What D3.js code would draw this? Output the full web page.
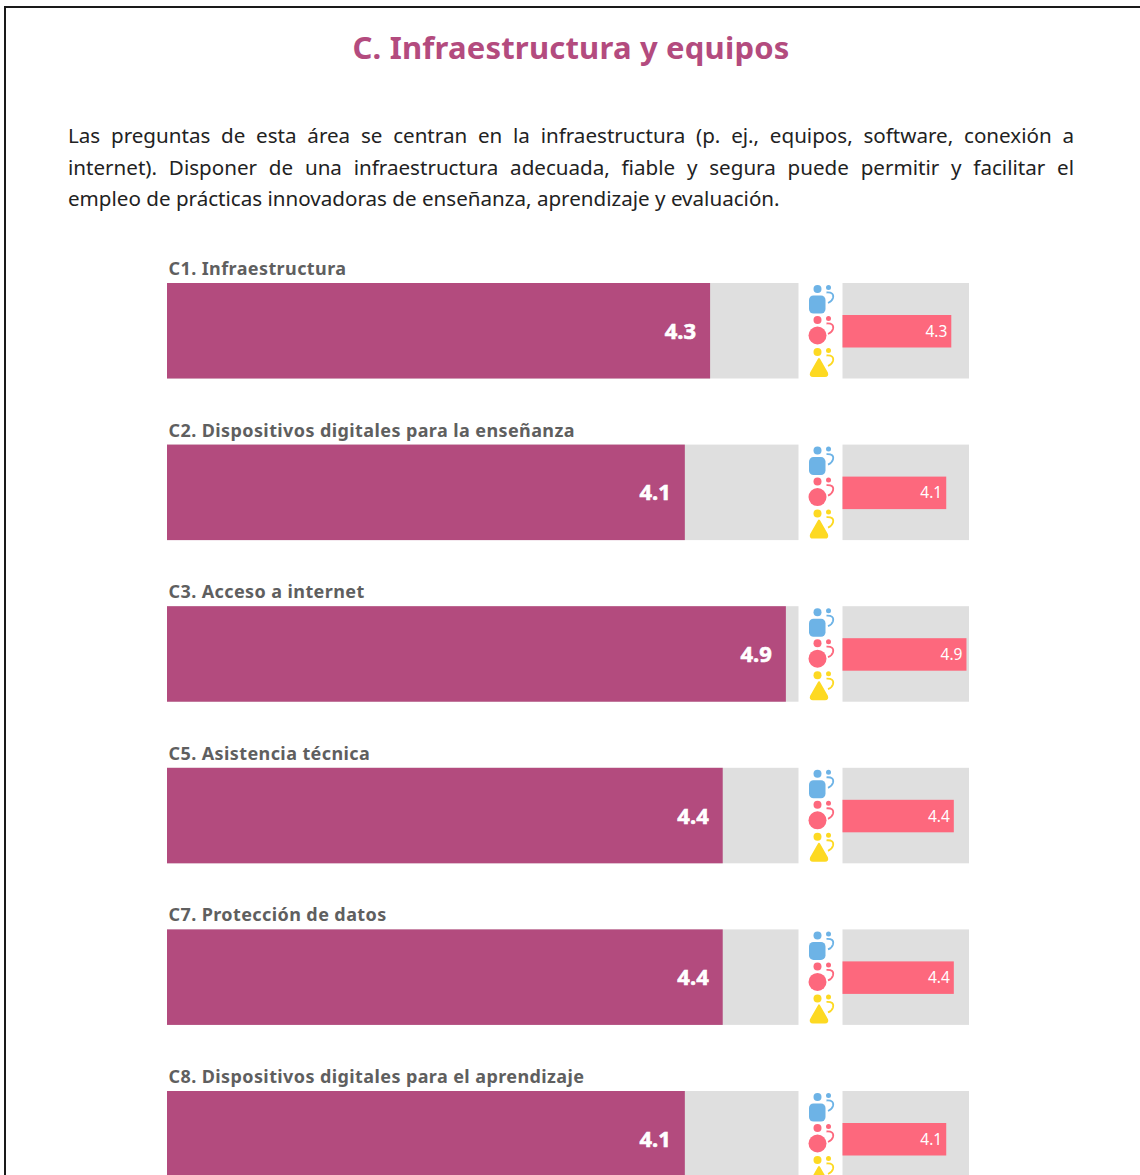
<!DOCTYPE html>
<html lang="es">
<head>
<meta charset="UTF-8">
<title>C. Infraestructura y equipos</title>
<script src="https://d3js.org/d3.v7.min.js"></script>
<style>
  html, body { margin: 0; padding: 0; background: #fff; overflow: hidden; }
  #page { position: relative; width: 1140px; height: 1175px; }
  #frame { position: absolute; left: 4px; top: 6px; width: 1140px; height: 1180px; border: 2px solid #1a1a1a; }
  #chart { position: absolute; left: 0; top: 0; }
  #intro {
    position: absolute; left: 68px; top: 120px; width: 1006px; margin: 0;
    font-family: "Noto Sans", sans-serif; font-size: 20.6px; line-height: 31.5px;
    color: #222;
  }
  #intro span { display: block; text-align: justify; text-align-last: justify; white-space: nowrap; }
  #intro span:last-child { text-align-last: left; }
</style>
</head>
<body>
<div id="page">
  <div id="frame"></div>
  <p id="intro">
    <span>Las preguntas de esta área se centran en la infraestructura (p. ej., equipos, software, conexión a</span>
    <span>internet). Disponer de una infraestructura adecuada, fiable y segura puede permitir y facilitar el</span>
    <span>empleo de prácticas innovadoras de enseñanza, aprendizaje y evaluación.</span>
  </p>
  <svg id="chart" width="1140" height="1175"></svg>
</div>
<script>
const title = "C. Infraestructura y equipos";
const categories = [
  "C1. Infraestructura",
  "C2. Dispositivos digitales para la enseñanza",
  "C3. Acceso a internet",
  "C5. Asistencia técnica",
  "C7. Protección de datos",
  "C8. Dispositivos digitales para el aprendizaje"
];
const overallValues = [4.3, 4.1, 4.9, 4.4, 4.4, 4.1];
const groupValues = [4.3, 4.1, 4.9, 4.4, 4.4, 4.1];
const maxScore = 5;

const svg = d3.select("#chart");
const font = '"Noto Sans", sans-serif';

svg.append("text")
  .attr("x", 571).attr("y", 59)
  .attr("text-anchor", "middle")
  .attr("font-family", font).attr("font-weight", 700).attr("font-size", 31)
  .attr("letter-spacing", 0.2)
  .attr("fill", "#b34b7e")
  .text(title);

// rows are 161.6px apart, first one starts at y=283
const y = d3.scaleLinear().domain([0, 1]).range([283, 444.6]);
const barH = 95.5;
const xBig = d3.scaleLinear().domain([0, maxScore]).range([167, 798.5]);
const xSmall = d3.scaleLinear().domain([0, maxScore]).range([842.5, 969]);

const rows = svg.selectAll("g.row")
  .data(categories)
  .enter().append("g")
  .attr("class", "row")
  .attr("transform", (d, i) => `translate(0,${y(i)})`);

rows.append("text")
  .attr("x", 168.5).attr("y", -8)
  .attr("font-family", font).attr("font-weight", 700).attr("font-size", 18)
  .attr("letter-spacing", 0.4)
  .attr("fill", "#5f5f5f")
  .text(d => d);

rows.append("rect")
  .attr("x", xBig(0)).attr("y", 0)
  .attr("width", xBig(maxScore) - xBig(0)).attr("height", barH)
  .attr("fill", "#dfdfdf");

rows.append("rect")
  .attr("x", xBig(0)).attr("y", 0)
  .attr("width", (d, i) => xBig(overallValues[i]) - xBig(0)).attr("height", barH)
  .attr("fill", "#b34b7e");

rows.append("text")
  .attr("x", (d, i) => xBig(overallValues[i]) - 14).attr("y", barH / 2 + 8)
  .attr("text-anchor", "end")
  .attr("font-family", font).attr("font-weight", 700).attr("font-size", 22)
  .attr("stroke", "#fff").attr("stroke-width", 0.6)
  .attr("fill", "#fff")
  .text((d, i) => overallValues[i].toFixed(1));

rows.append("rect")
  .attr("x", xSmall(0)).attr("y", 0)
  .attr("width", xSmall(maxScore) - xSmall(0)).attr("height", barH)
  .attr("fill", "#dfdfdf");

rows.append("rect")
  .attr("x", xSmall(0)).attr("y", 32)
  .attr("width", (d, i) => xSmall(groupValues[i]) - xSmall(0)).attr("height", 32.5)
  .attr("fill", "#fd687d");

rows.append("text")
  .attr("x", (d, i) => xSmall(groupValues[i]) - 4).attr("y", barH / 2 + 6)
  .attr("text-anchor", "end")
  .attr("font-family", font).attr("font-size", 15.5)
  .attr("fill", "#fff")
  .text((d, i) => groupValues[i].toFixed(1));

// the three little people between the bars
function person(g, color, dy, body) {
  const p = g.append("g").attr("transform", `translate(0,${dy})`).attr("fill", color);
  p.append("circle").attr("cx", 817.5).attr("cy", 6).attr("r", 4);
  p.append("circle").attr("cx", 828.5).attr("cy", 4.5).attr("r", 2.5);
  p.append("path")
    .attr("d", "M826.5,9.5 Q834.5,9 833,15 Q832,18.5 828,20")
    .attr("fill", "none").attr("stroke", color).attr("stroke-width", 1.8);
  body(p);
}

rows.each(function () {
  const g = d3.select(this);
  person(g, "#6db3e6", 0, p => p.append("rect")
    .attr("x", 809).attr("y", 12.5).attr("width", 16.5).attr("height", 18).attr("rx", 4.5));
  person(g, "#fd687d", 31, p => p.append("circle")
    .attr("cx", 817.5).attr("cy", 21.5).attr("r", 9));
  person(g, "#fdd922", 63, p => p.append("path")
    .attr("d", "M819,13 L827,27 Q828,30 825,30 L813,30 Q810,30 811,27 Z")
    .attr("stroke", "#fdd922").attr("stroke-width", 2).attr("stroke-linejoin", "round"));
});
</script>
</body>
</html>
